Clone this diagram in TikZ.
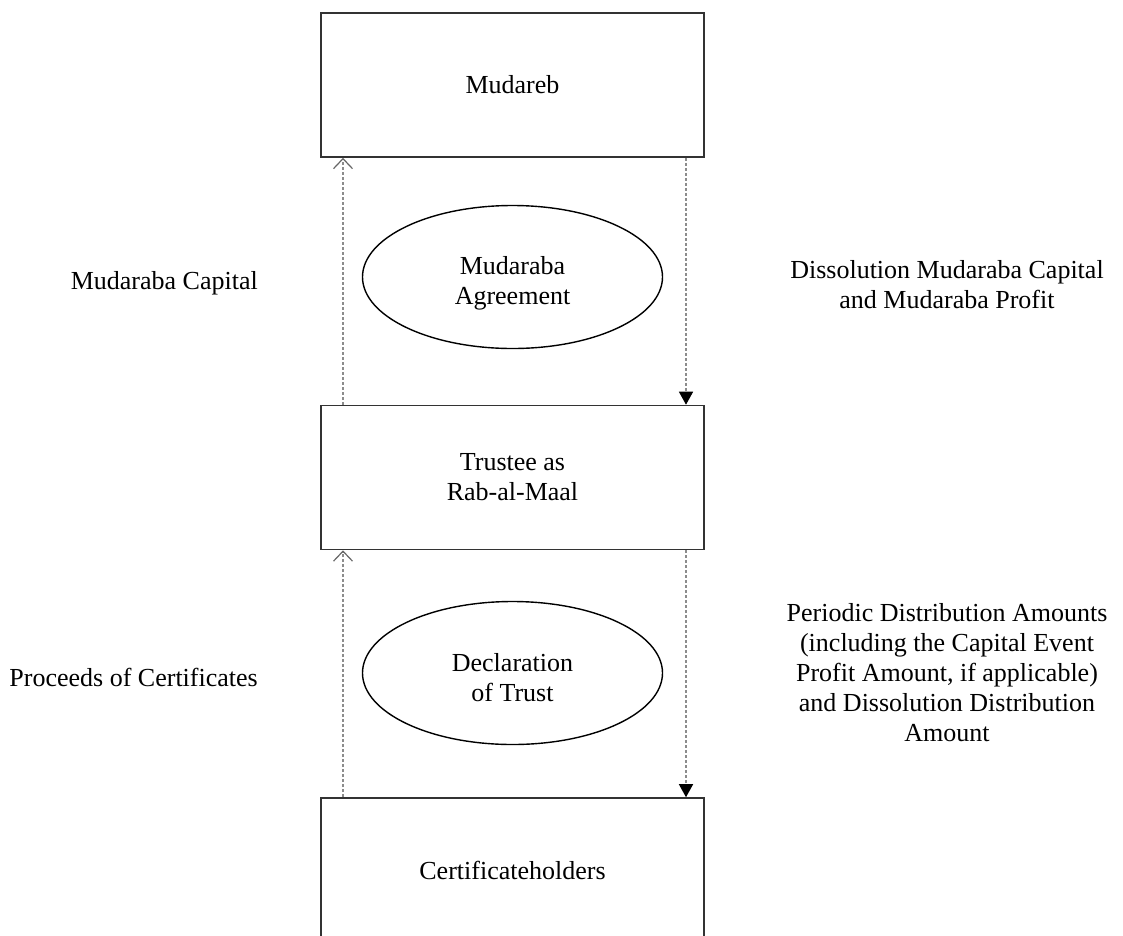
\documentclass[tikz,border=0pt]{standalone}
\usepackage{fontspec}
\setmainfont{Liberation Serif}
\usetikzlibrary{arrows.meta,calc,shapes.geometric}
\begin{document}
\begin{tikzpicture}[x=1pt,y=-1pt,
  txt/.style={font=\fontsize{26}{30}\selectfont},
  box/.style={txt,draw=black!80,line width=1.6pt,minimum width=383pt,minimum height=144pt,inner sep=0pt,align=center},
  oval/.style={ellipse,draw=black,line width=1.4pt,minimum width=300pt,minimum height=143pt,inner sep=0pt},
  lbl/.style={txt,align=center,inner sep=0pt},
  flow/.style={draw=black!45,line width=1.5pt,dash pattern=on 3pt off 2pt},
  upflow/.style={flow,-{Straight Barb[width=19pt,length=10pt,line width=1.2pt,color=black!60]}},
  downflow/.style={flow,-{Triangle[width=14pt,length=13pt,fill=black,color=black]}}]
\useasboundingbox (0,0) rectangle (1123,935);

\node[box] (mud) at (512.5,85) {\raisebox{-3pt}{Mudareb}};
\node[box] (tru) at (512.5,477.5) {Trustee as\\Rab-al-Maal};
\node[box] (cert) at (512.5,870) {Certificateholders};

\node[oval] (agr) at (512.5,277) {};
\node[lbl] (agrtxt) at ($(agr.center)+(0,6)$) {Mudaraba\\Agreement};
\node[oval] (dec) at (512.5,673) {};
\node[lbl] (dectxt) at ($(dec.center)+(0,5)$) {Declaration\\of Trust};

\node[lbl,anchor=east] (cap) at (258,283) {Mudaraba Capital};
\node[lbl] (diss) at (947,285) {Dissolution Mudaraba Capital\\and Mudaraba Profit};
\node[lbl,anchor=east] (proc) at (258,677) {Proceeds of Certificates};
\node[lbl] (per) at (947,673) {Periodic Distribution Amounts\\(including the Capital Event\\Profit Amount, if applicable)\\and Dissolution Distribution\\Amount};

\coordinate (upx) at (343,0);
\coordinate (dnx) at (686,0);

\draw[upflow] (tru.north -| upx) -- (mud.south -| upx);
\draw[downflow] (mud.south -| dnx) -- (tru.north -| dnx);
\draw[upflow] (cert.north -| upx) -- (tru.south -| upx);
\draw[downflow] (tru.south -| dnx) -- (cert.north -| dnx);
\end{tikzpicture}
\end{document}
